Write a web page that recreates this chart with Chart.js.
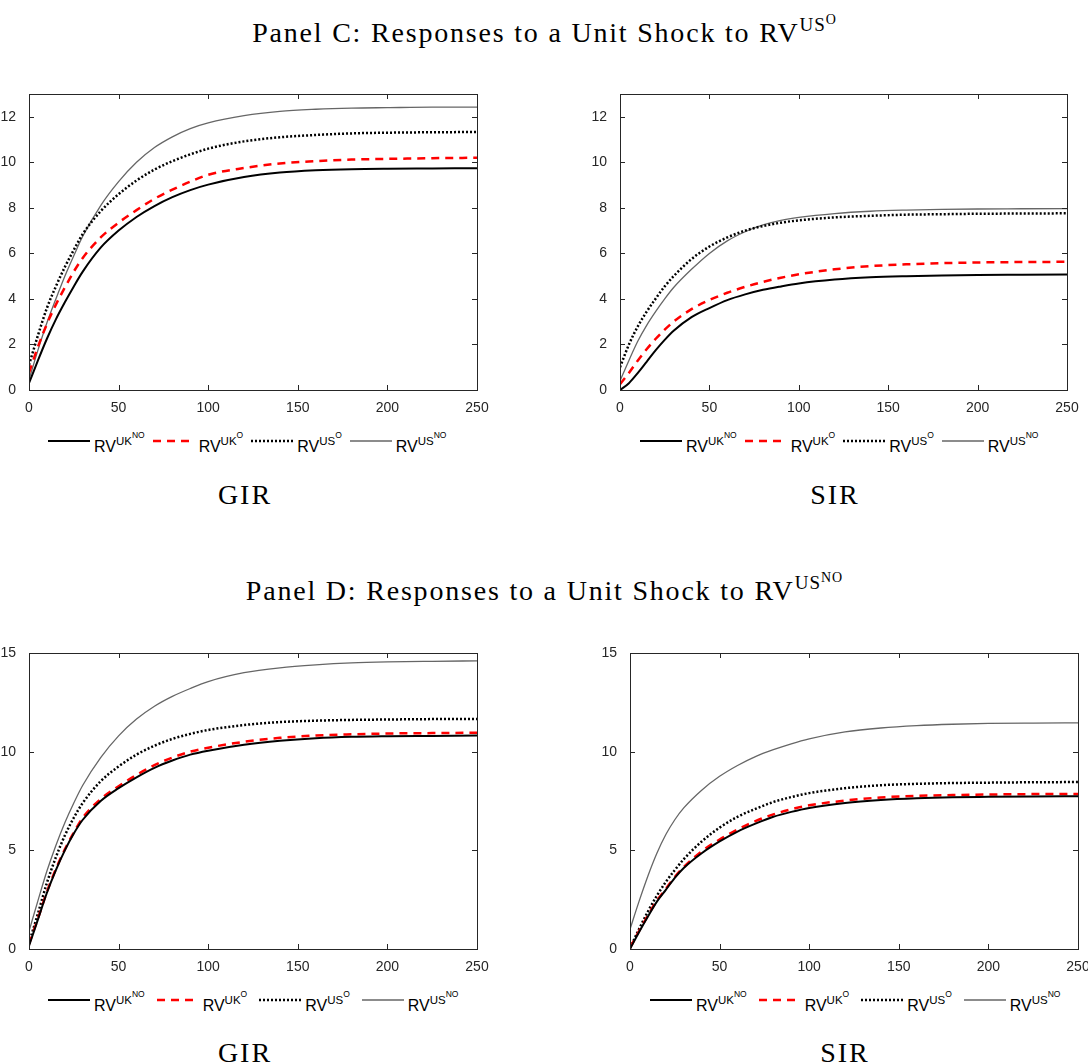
<!DOCTYPE html>
<html>
<head>
<meta charset="utf-8">
<script src="https://cdn.jsdelivr.net/npm/chart.js@4.4.1/dist/chart.umd.min.js"></script>
<style>
  body { margin: 0; width: 1089px; height: 1064px; background: #fff; position: relative; overflow: hidden; }
  .box { position: absolute; }
  .title { position: absolute; left: 0; width: 1089px; text-align: center; font-family: 'Liberation Serif', 'DejaVu Serif', serif; font-size: 28px; line-height: 28px; letter-spacing: 1.8px; color: #000; white-space: nowrap; }
  .title .s1 { font-size: 19px; position: relative; top: -11px; letter-spacing: 1px; }
  .title .s2 { font-size: 14px; position: relative; top: -7px; }
  .caption { position: absolute; width: 200px; text-align: center; font-family: 'Liberation Serif', 'DejaVu Serif', serif; font-size: 28px; line-height: 28px; letter-spacing: 2px; color: #000; }
  .legend { position: absolute; display: flex; align-items: flex-end; font-family: 'Liberation Sans', Arial, sans-serif; color: #000; white-space: nowrap; }
  .legend .item { display: flex; align-items: flex-end; margin-right: 8px; }
  .legend.wide .item { margin-right: 12px; }
  .legend svg { display: block; margin-right: 4px; margin-bottom: 14px; }
  .legend .rv { font-size: 16px; line-height: 16px; }
  .legend .u1 { font-size: 11.5px; position: relative; top: -7px; }
  .legend .u2 { font-size: 8.5px; position: relative; top: -7px; }
</style>
</head>
<body>
<div class="title" style="top:19px">Panel C: Responses to a Unit Shock to RV<span class="s1">US<span class="s2">O</span></span></div>
<div class="title" style="top:577px">Panel D: Responses to a Unit Shock to RV<span class="s1">US<span class="s2">NO</span></span></div>

<div class="box" style="left:0px;top:84px;width:489px;height:336px"><canvas id="cGir"></canvas></div>
<div class="box" style="left:590px;top:84px;width:489px;height:336px"><canvas id="cSir"></canvas></div>
<div class="box" style="left:0px;top:643px;width:489px;height:336px"><canvas id="dGir"></canvas></div>
<div class="box" style="left:600px;top:643px;width:488px;height:336px"><canvas id="dSir"></canvas></div>

<div class="legend" id="legCGir" style="left:48px;top:439px"></div>
<div class="legend" id="legCSir" style="left:640px;top:439px"></div>
<div class="legend wide" id="legDGir" style="left:48px;top:998px"></div>
<div class="legend wide" id="legDSir" style="left:650px;top:998px"></div>

<div class="caption" style="left:145px;top:481px">GIR</div>
<div class="caption" style="left:735px;top:481px">SIR</div>
<div class="caption" style="left:145px;top:1039px">GIR</div>
<div class="caption" style="left:745px;top:1039px">SIR</div>

<script>
// horizon (days)
const horizon = [0, 5, 10, 15, 20, 25, 30, 40, 50, 60, 70, 80, 90, 100, 120, 140, 160, 180, 200, 225, 250];

// Panel C, GIR
const cGirUkNo = [0.3, 1.3, 2.25, 3.1, 3.85, 4.55, 5.2, 6.25, 7.0, 7.6, 8.08, 8.47, 8.78, 9.02, 9.35, 9.55, 9.65, 9.7, 9.72, 9.73, 9.74];
const cGirUkO  = [0.75, 1.9, 2.9, 3.75, 4.5, 5.2, 5.8, 6.7, 7.35, 7.9, 8.4, 8.8, 9.15, 9.45, 9.75, 9.95, 10.05, 10.12, 10.15, 10.18, 10.2];
const cGirUsO  = [1.1, 2.4, 3.6, 4.55, 5.4, 6.15, 6.85, 7.85, 8.6, 9.2, 9.68, 10.05, 10.35, 10.6, 10.92, 11.1, 11.2, 11.27, 11.3, 11.32, 11.33];
const cGirUsNo = [0.45, 1.75, 2.95, 4.0, 5.0, 5.9, 6.75, 8.1, 9.15, 10.0, 10.65, 11.12, 11.48, 11.73, 12.05, 12.24, 12.33, 12.38, 12.4, 12.42, 12.42];

// Panel C, SIR
const cSirUkNo = [0.0, 0.3, 0.75, 1.25, 1.75, 2.2, 2.6, 3.2, 3.6, 3.95, 4.2, 4.4, 4.55, 4.68, 4.85, 4.95, 5.0, 5.03, 5.05, 5.06, 5.07];
const cSirUkO  = [0.25, 0.75, 1.3, 1.8, 2.25, 2.65, 3.0, 3.55, 3.95, 4.27, 4.53, 4.75, 4.93, 5.08, 5.3, 5.44, 5.52, 5.57, 5.6, 5.62, 5.63];
const cSirUsO  = [1.0, 2.0, 2.8, 3.45, 4.02, 4.55, 5.0, 5.75, 6.3, 6.7, 7.0, 7.2, 7.35, 7.45, 7.58, 7.65, 7.7, 7.72, 7.74, 7.75, 7.76];
const cSirUsNo = [0.4, 1.3, 2.15, 2.85, 3.45, 4.0, 4.5, 5.3, 6.0, 6.55, 6.95, 7.25, 7.45, 7.58, 7.75, 7.85, 7.9, 7.93, 7.95, 7.96, 7.97];

// Panel D, GIR
const dGirUkNo = [0.15, 1.5, 2.85, 4.0, 5.0, 5.85, 6.55, 7.5, 8.15, 8.7, 9.18, 9.55, 9.85, 10.05, 10.35, 10.55, 10.68, 10.75, 10.78, 10.8, 10.82];
const dGirUkO  = [0.25, 1.55, 2.9, 4.05, 5.05, 5.9, 6.65, 7.6, 8.25, 8.82, 9.32, 9.7, 10.0, 10.2, 10.5, 10.7, 10.82, 10.88, 10.92, 10.94, 10.96];
const dGirUsO  = [0.3, 1.8, 3.35, 4.65, 5.75, 6.65, 7.4, 8.5, 9.25, 9.85, 10.3, 10.65, 10.9, 11.1, 11.35, 11.5, 11.57, 11.61, 11.63, 11.65, 11.66];
const dGirUsNo = [0.9, 2.45, 3.95, 5.25, 6.4, 7.4, 8.3, 9.7, 10.8, 11.65, 12.3, 12.8, 13.2, 13.55, 14.0, 14.25, 14.4, 14.5, 14.55, 14.58, 14.6];

// Panel D, SIR
const dSirUkNo = [0.0, 0.85, 1.65, 2.4, 3.0, 3.6, 4.1, 4.85, 5.45, 5.95, 6.35, 6.7, 6.95, 7.15, 7.4, 7.55, 7.64, 7.69, 7.71, 7.73, 7.74];
const dSirUkO  = [0.05, 0.9, 1.7, 2.45, 3.05, 3.65, 4.15, 4.95, 5.55, 6.05, 6.48, 6.82, 7.08, 7.28, 7.52, 7.68, 7.76, 7.8, 7.83, 7.85, 7.86];
const dSirUsO  = [0.05, 1.0, 1.9, 2.7, 3.4, 4.0, 4.55, 5.45, 6.15, 6.7, 7.1, 7.45, 7.7, 7.9, 8.15, 8.3, 8.37, 8.41, 8.43, 8.45, 8.46];
const dSirUsNo = [1.0, 2.4, 3.7, 4.85, 5.8, 6.55, 7.15, 8.05, 8.75, 9.3, 9.75, 10.1, 10.4, 10.65, 11.0, 11.2, 11.32, 11.39, 11.43, 11.45, 11.46];

// legend labels: [base, superscript, superscript of superscript]
const seriesLabels = [['RV', 'UK', 'NO'], ['RV', 'UK', 'O'], ['RV', 'US', 'O'], ['RV', 'US', 'NO']];
const seriesStyles = [
  { color: '#000000', width: 2, dash: [] },
  { color: '#ff0000', width: 2.5, dash: [8, 6] },
  { color: '#000000', width: 2.5, dash: [2, 2] },
  { color: '#666666', width: 1.3, dash: [] }
];

// box around the plot with inward ticks, like the original figure
const boxTicks = {
  id: 'boxTicks',
  afterDraw(chart) {
    const { ctx, chartArea: a, scales: { x, y } } = chart;
    ctx.save();
    ctx.strokeStyle = '#262626';
    ctx.lineWidth = 1;
    ctx.strokeRect(Math.round(a.left) + 0.5, Math.round(a.top) + 0.5, Math.round(a.right - a.left), Math.round(a.bottom - a.top));
    ctx.beginPath();
    x.ticks.forEach(t => {
      const px = Math.round(x.getPixelForValue(t.value)) + 0.5;
      ctx.moveTo(px, a.bottom); ctx.lineTo(px, a.bottom - 5);
      ctx.moveTo(px, a.top); ctx.lineTo(px, a.top + 5);
    });
    y.ticks.forEach(t => {
      const py = Math.round(y.getPixelForValue(t.value)) + 0.5;
      ctx.moveTo(a.left, py); ctx.lineTo(a.left + 5, py);
      ctx.moveTo(a.right, py); ctx.lineTo(a.right - 5, py);
    });
    ctx.stroke();
    ctx.restore();
  }
};

function makeChart(id, series, yMax, yStep, yLast, yWidth, padRight) {
  const datasets = series.map((vals, i) => ({
    label: seriesLabels[i].join(''),
    data: horizon.map((h, k) => ({ x: h, y: vals[k] })),
    borderColor: seriesStyles[i].color,
    borderWidth: seriesStyles[i].width,
    borderDash: seriesStyles[i].dash,
    pointRadius: 0,
    fill: false,
    cubicInterpolationMode: 'monotone'
  }));
  const tickFont = { family: "'Liberation Sans', Arial, sans-serif", size: 14 };
  return new Chart(document.getElementById(id), {
    type: 'line',
    data: { datasets: datasets },
    plugins: [boxTicks],
    options: {
      responsive: true,
      maintainAspectRatio: false,
      animation: false,
      layout: { padding: { top: 10, right: padRight, left: 0, bottom: 0 } },
      plugins: { legend: { display: false }, tooltip: { enabled: false } },
      scales: {
        x: {
          type: 'linear',
          min: 0, max: 250,
          grid: { display: false },
          border: { display: false },
          ticks: { stepSize: 50, color: '#262626', font: tickFont, padding: 2, maxRotation: 0 },
          afterFit: s => { s.height = 30; s.paddingLeft = 0; s.paddingRight = 0; }
        },
        y: {
          min: 0, max: yMax,
          grid: { display: false },
          border: { display: false },
          ticks: { stepSize: yStep, color: '#262626', font: tickFont, padding: 5 },
          afterBuildTicks: s => { s.ticks = s.ticks.filter(t => t.value <= yLast); },
          afterFit: s => { s.width = yWidth; s.paddingTop = 0; s.paddingBottom = 0; }
        }
      }
    }
  });
}

makeChart('cGir', [cGirUkNo, cGirUkO, cGirUsO, cGirUsNo], 13, 2, 12, 29, 12);
makeChart('cSir', [cSirUkNo, cSirUkO, cSirUsO, cSirUsNo], 13, 2, 12, 30, 12);
makeChart('dGir', [dGirUkNo, dGirUkO, dGirUsO, dGirUsNo], 15, 5, 15, 29, 12);
makeChart('dSir', [dSirUkNo, dSirUkO, dSirUsO, dSirUsNo], 15, 5, 15, 30, 10);

function makeLegend(id) {
  const el = document.getElementById(id);
  seriesLabels.forEach((lab, i) => {
    const st = seriesStyles[i];
    const item = document.createElement('div');
    item.className = 'item';
    const dash = st.dash.length ? ` stroke-dasharray="${st.dash.join(' ')}"` : '';
    item.innerHTML =
      `<svg width="42" height="4"><line x1="0" y1="2" x2="42" y2="2" stroke="${st.color}" stroke-width="${st.width}"${dash}/></svg>` +
      `<span class="rv">${lab[0]}<span class="u1">${lab[1]}<span class="u2">${lab[2]}</span></span></span>`;
    el.appendChild(item);
  });
}
['legCGir', 'legCSir', 'legDGir', 'legDSir'].forEach(makeLegend);
</script>
</body>
</html>
